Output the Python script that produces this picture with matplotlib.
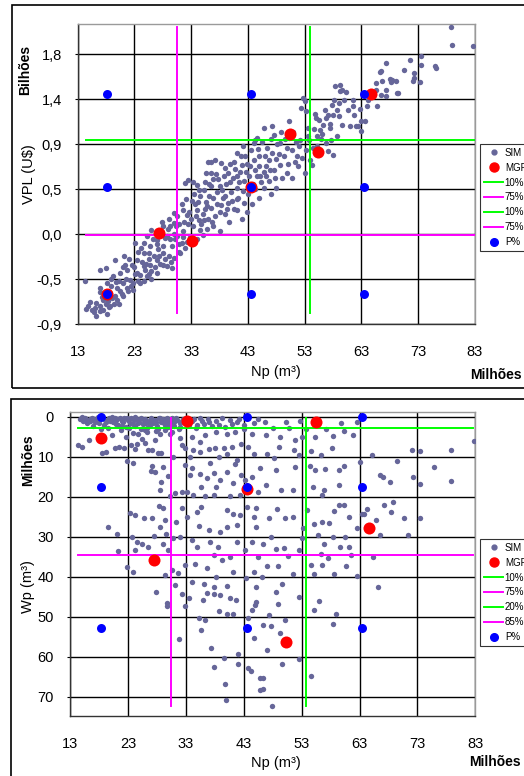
import matplotlib
matplotlib.use("Agg")
import matplotlib.pyplot as plt
from matplotlib.lines import Line2D
from matplotlib.patches import Rectangle

plt.rcParams["font.family"] = ["Liberation Sans", "DejaVu Sans"]

W, H = 524, 776
SIM_C = "#666699"
GREEN = "#00ff00"
MAGENTA = "#ff00ff"

# ---------------- dados: VPL x Np ----------------
sim_top = [
    (14.3, -0.47), (14.5, -0.75), (14.9, -0.72), (15.5, -0.76), (15.8, -0.78), (16.3, -0.69), (16.3, -0.82),
    (16.9, -0.77), (16.9, -0.72), (16.9, -0.54), (16.9, -0.36), (17.2, -0.63), (17.5, -0.76), (17.5, -0.66),
    (17.8, -0.58), (18.0, -0.34), (18.1, -0.49), (18.2, -0.80), (18.4, -0.67), (18.5, -0.73), (18.7, -0.72),
    (18.7, -0.59), (18.9, -0.52), (19.0, -0.64), (19.3, -0.42), (19.4, -0.70), (19.6, -0.62), (19.6, -0.26),
    (19.9, -0.66), (19.9, -0.54), (20.2, -0.47), (20.5, -0.39), (20.5, -0.57), (20.8, -0.60), (21.0, -0.62),
    (21.0, -0.49), (21.2, -0.22), (21.4, -0.31), (21.6, -0.36), (21.6, -0.54), (21.9, -0.57), (22.2, -0.46),
    (22.5, -0.31), (22.8, -0.56), (22.8, -0.49), (23.1, -0.09), (23.1, -0.40), (23.4, -0.39), (23.4, -0.26),
    (23.7, -0.18), (24.0, -0.49), (24.0, -0.41), (24.3, -0.28), (24.6, -0.32), (24.6, -0.19), (24.6, -0.47),
    (24.6, -0.09), (24.9, -0.36), (25.2, -0.02), (25.2, -0.42), (25.5, -0.19), (25.5, -0.25), (25.8, -0.31),
    (25.8, -0.12), (26.0, 0.04), (26.0, -0.37), (26.0, -0.45), (26.4, -0.22), (26.9, -0.26), (26.9, -0.06),
    (26.9, -0.39), (27.2, -0.15), (27.5, -0.30), (27.8, 0.12), (28.1, 0.08), (28.1, -0.19), (28.1, -0.31),
    (28.4, -0.04), (28.7, -0.02), (28.7, -0.32), (29.0, 0.15), (29.0, -0.22), (29.3, 0.08), (29.6, -0.12),
    (29.6, -0.34), (29.9, 0.11), (29.9, 0.21), (29.9, -0.24), (30.2, -0.05), (30.5, 0.18), (30.5, -0.02),
    (30.8, -0.18), (31.0, -0.19), (31.3, -0.09), (31.3, 0.30), (31.6, 0.24), (31.6, 0.03), (31.9, -0.14),
    (31.9, 0.51), (32.2, 0.19), (32.5, 0.54), (32.5, 0.10), (32.8, -0.03), (33.4, 0.52), (33.4, 0.08),
    (33.7, 0.30), (34.0, 0.49), (34.0, 0.24), (34.0, -0.05), (34.3, 0.14), (34.6, 0.04), (34.6, 0.38),
    (35.0, 0.20), (35.2, 0.44), (35.2, 0.14), (35.6, 0.61), (35.6, 0.32), (35.8, 0.28), (35.8, 0.05),
    (36.0, 0.72), (36.2, 0.50), (36.5, 0.72), (36.5, 0.61), (36.5, 0.48), (36.5, 0.26), (36.9, 0.08),
    (36.9, 0.36), (37.2, 0.74), (37.2, 0.18), (37.5, 0.42), (37.8, 0.55), (38.0, 0.48), (38.1, 0.03),
    (38.3, 0.71), (38.3, 0.29), (38.6, 0.36), (38.9, 0.66), (38.9, 0.20), (39.2, 0.50), (39.4, 0.61),
    (39.4, 0.31), (39.7, 0.12), (40.0, 0.42), (40.3, 0.56), (40.6, 0.25), (41.0, 0.81), (41.0, 0.58),
    (41.0, 0.46), (41.0, 0.24), (41.3, 0.36), (41.7, 0.78), (41.9, 0.69), (41.9, 0.15), (42.1, 0.88),
    (42.2, 0.43), (42.3, 0.53), (42.3, 0.31), (42.6, 0.62), (42.8, 0.22), (43.0, 0.40), (43.4, 0.68),
    (43.7, 0.30), (44.0, 0.74), (44.0, 0.91), (44.3, 0.94), (44.3, 0.45), (44.6, 0.96), (44.6, 0.58),
    (45.0, 0.68), (45.0, 0.78), (45.0, 0.36), (45.3, 0.52), (45.8, 1.06), (45.8, 0.46), (45.8, 0.62),
    (46.1, 0.68), (46.4, 0.86), (46.7, 0.74), (46.7, 0.53), (47.0, 0.40), (47.3, 1.08), (47.3, 0.81),
    (47.6, 0.99), (47.6, 0.64), (47.9, 0.46), (48.2, 0.90), (48.6, 0.91), (48.6, 0.69), (49.0, 0.56),
    (49.3, 0.78), (49.8, 0.86), (49.8, 0.61), (50.3, 1.13), (50.3, 0.96), (50.7, 0.84), (50.7, 0.56),
    (51.2, 0.72), (51.6, 0.78), (51.9, 0.68), (52.2, 0.94), (52.4, 1.26), (52.7, 1.36), (53.0, 1.33),
    (53.0, 0.61), (53.2, 0.84), (53.3, 1.23), (53.8, 0.94), (54.0, 0.74), (54.3, 0.69), (54.6, 1.05),
    (55.0, 1.16), (55.1, 0.98), (55.1, 0.88), (55.6, 1.14), (55.7, 1.04), (56.2, 1.09), (56.8, 1.16),
    (56.8, 0.91), (57.1, 1.19), (57.1, 0.83), (57.7, 0.94), (57.8, 1.29), (58.0, 1.19), (58.0, 0.79),
    (58.2, 1.34), (58.4, 1.48), (58.6, 1.24), (58.6, 0.98), (59.1, 1.31), (59.3, 1.49), (59.2, 1.43),
    (59.6, 1.44), (59.6, 1.09), (60.0, 1.34), (60.6, 1.24), (61.0, 1.08), (61.5, 1.28), (61.5, 1.34),
    (61.7, 1.19), (62.0, 1.08), (62.4, 1.08), (63.0, 1.03), (63.0, 1.13), (63.7, 1.13), (64.0, 1.28),
    (64.2, 1.34), (65.5, 1.44), (65.5, 1.51), (65.7, 1.28), (66.3, 1.62), (66.4, 1.39), (66.4, 1.63),
    (66.7, 1.53), (67.3, 1.38), (67.3, 1.71), (67.4, 1.44), (68.0, 1.55), (68.2, 1.52), (68.4, 1.54),
    (69.0, 1.53), (69.2, 1.41), (69.5, 1.41), (70.5, 1.64), (71.5, 1.74), (72.1, 1.53), (72.2, 1.56),
    (72.3, 1.61), (73.3, 1.52), (73.4, 1.69), (73.5, 1.78), (75.9, 1.68), (76.2, 1.66), (78.8, 2.07),
    (78.9, 1.89), (82.7, 1.88),
    (27.0, -0.10), (27.5, 0.02), (28.0, -0.12), (29.3, -0.05), (30.0, 0.00), (30.8, 0.10), (31.5, -0.03),
    (32.0, 0.35), (32.6, 0.22), (33.0, 0.15), (33.5, 0.40), (34.2, 0.32), (34.8, 0.10), (35.5, 0.52),
    (36.0, 0.15), (36.8, 0.55), (37.6, 0.30), (38.5, 0.44), (39.0, 0.38), (39.8, 0.70), (40.2, 0.33),
    (40.8, 0.65), (41.5, 0.52), (42.8, 0.70), (43.2, 0.58), (43.9, 0.50), (44.8, 0.85), (45.5, 0.92),
    (46.2, 0.58), (47.0, 0.95), (48.0, 0.75), (48.9, 1.02), (51.0, 1.02), (52.0, 0.88), (53.6, 1.06),
    (54.5, 0.86), (56.0, 1.00), (57.4, 1.06),
    (15.2, -0.68), (16.0, -0.74), (17.0, -0.58), (17.9, -0.70), (18.8, -0.45), (19.7, -0.48), (20.3, -0.70),
    (20.9, -0.33), (21.5, -0.45), (22.0, -0.25), (22.4, -0.52), (23.0, -0.33), (23.6, -0.47), (24.2, -0.14),
    (25.0, -0.30), (25.6, -0.40), (26.2, -0.05), (26.7, -0.33), (27.4, -0.22), (28.4, -0.25), (28.9, 0.05),
    (29.4, -0.28), (30.3, 0.08), (30.9, -0.10), (31.8, 0.12), (32.3, -0.08), (33.1, 0.33), (33.8, 0.18),
    (34.4, 0.44), (35.0, -0.01), (35.4, 0.25), (36.1, 0.38), (36.7, 0.12), (37.3, 0.60), (38.0, 0.22),
    (38.7, 0.58), (39.3, 0.25), (39.9, 0.52), (40.5, 0.72), (41.1, 0.35), (41.6, 0.62), (42.4, 0.78),
    (43.1, 0.48), (43.6, 0.84), (44.2, 0.64), (45.2, 0.58), (46.0, 0.78), (46.9, 0.64), (47.8, 0.56),
    (48.4, 0.80), (49.5, 0.95), (50.0, 0.70), (51.4, 0.92), (52.6, 0.76), (53.5, 0.98), (54.8, 1.20),
    (55.9, 0.95), (56.5, 1.24), (57.5, 1.10), (59.0, 1.18), (60.3, 1.42), (62.8, 1.25),
]
mgr_top_np = [18.2, 27.4, 33.1, 43.5, 50.4, 55.4, 64.7]
mgr_top_vpl = [-0.60, 0.01, -0.07, 0.47, 1.00, 0.82, 1.40]
p_top_np = [18.2, 18.2, 18.2, 43.5, 43.5, 43.5, 63.5, 63.5, 63.5]
p_top_vpl = [1.40, 0.47, -0.60, 1.40, 0.47, -0.60, 1.40, 0.47, -0.60]
top_hlines = {"green": 0.94, "magenta": -0.01}
top_vlines = {"green": 53.85, "magenta": 30.45}
top_yticks = [-0.9, -0.45, 0.0, 0.45, 0.9, 1.35, 1.8]
top_ylabels = ["-0,9", "-0,5", "0,0", "0,5", "0,9", "1,4", "1,8"]
top_legend = ["SIM", "MGR", "10%", "75%", "10%", "75%", "P%"]

# ---------------- dados: Wp x Np ----------------
sim_bot = [
    # faixa densa perto de zero
    (14.8, 0.6), (15.2, 1.1), (15.6, 0.3), (16.0, 0.8), (16.5, 1.0), (16.8, 0.2), (17.2, 0.5), (17.6, 0.9),
    (18.0, 1.5), (18.6, 0.4), (19.0, 0.7), (19.3, 1.2), (19.7, 0.2), (20.0, 0.6), (20.4, 1.4), (20.7, 0.3),
    (21.0, 0.9), (21.3, 2.0), (21.6, 0.4), (22.0, 1.1), (22.3, 0.2), (22.6, 2.6), (23.0, 0.7), (23.3, 1.5),
    (23.6, 0.3), (24.0, 0.9), (24.3, 2.2), (24.6, 0.5), (25.0, 1.2), (25.3, 0.2), (25.6, 1.9), (26.0, 0.6),
    (26.3, 2.8), (26.6, 1.0), (27.0, 0.3), (27.3, 1.6), (27.6, 0.8), (28.0, 2.3), (28.3, 0.4), (28.7, 1.2),
    (29.0, 0.6), (29.4, 2.0), (29.8, 0.9), (30.2, 1.5), (30.6, 0.3), (31.0, 2.4), (31.5, 0.8), (32.0, 1.6),
    (32.6, 0.5), (33.5, 2.0), (34.0, 1.0), (34.7, 2.7), (35.4, 0.4), (36.2, 1.8), (17.0, 2.2), (19.5, 2.7),
    (21.8, 3.4), (23.8, 4.0), (25.9, 3.3), (27.9, 3.6), (30.7, 3.9), (20.3, 4.5), (22.7, 5.0), (18.3, 3.0),
    (15.0, 0.1), (15.9, 1.6), (16.4, 0.5), (17.4, 1.3), (17.9, 0.1), (18.8, 2.0), (19.9, 1.0), (20.2, 0.1),
    (20.9, 1.7), (21.2, 0.6), (21.9, 2.4), (22.2, 1.3), (22.9, 0.3), (23.2, 2.9), (23.9, 1.8), (24.2, 0.1),
    (24.8, 1.5), (25.2, 3.0), (25.8, 0.9), (26.2, 1.5), (26.8, 2.0), (27.2, 0.7), (27.8, 1.3), (28.2, 3.1),
    (28.6, 0.2), (29.2, 1.5), (29.7, 0.4), (30.0, 2.5), (30.4, 0.9), (30.9, 1.3), (31.3, 0.2), (31.8, 3.0),
    (32.3, 1.0), (33.0, 0.3), (33.8, 1.4), (34.4, 0.6), (35.0, 2.0), (35.8, 1.1), (36.8, 0.6), (37.6, 2.4),
    (38.2, 1.0), (39.3, 0.4), (39.8, 2.6), (40.9, 1.9), (42.2, 0.6), (43.0, 2.0), (44.8, 1.5), (45.5, 0.5),
    # Np < 46
    (14.4, 7.1), (15.0, 7.5), (16.2, 5.8), (16.5, 1.0), (19.3, 8.7), (18.5, 9.0), (20.8, 7.9), (21.5, 7.5),
    (22.4, 7.9), (23.5, 7.1), (24.2, 8.1), (24.5, 6.7), (25.9, 6.5), (26.5, 8.2), (27.1, 8.2), (28.2, 9.0),
    (22.8, 11.1), (23.8, 11.5), (27.1, 12.3), (27.6, 13.7), (29.1, 12.6), (28.7, 9.0), (27.6, 5.8),
    (25.4, 5.6), (24.8, 4.2), (26.3, 3.8), (28.5, 4.2), (29.4, 3.3), (30.3, 4.2), (29.7, 2.1), (32.0, 2.5),
    (32.3, 7.1), (32.9, 7.9), (34.3, 8.2), (32.0, 5.3), (34.0, 5.0), (35.5, 6.2), (36.3, 4.6), (37.0, 1.3),
    (38.7, 2.1), (40.6, 0.8), (41.8, 1.2), (38.3, 3.8), (40.1, 4.2), (41.5, 3.8), (43.1, 3.0), (44.5, 4.2),
    (35.5, 8.7), (37.0, 8.1), (38.1, 7.9), (39.6, 7.9), (41.0, 7.5), (42.5, 6.8), (43.8, 7.5), (38.7, 10.0),
    (40.1, 9.4), (41.8, 10.9), (44.7, 9.2), (37.2, 11.5), (41.5, 11.7), (45.8, 12.9), (33.7, 10.0),
    (32.9, 12.1), (30.8, 10.0), (34.0, 12.9), (33.7, 14.6), (35.5, 14.2), (37.8, 14.0), (40.2, 13.7),
    (42.6, 14.6), (44.5, 15.0), (36.7, 15.4), (38.9, 15.8), (43.2, 15.8), (41.2, 16.5), (35.7, 17.5),
    (38.3, 17.5), (33.2, 18.7), (34.2, 19.5), (31.1, 19.0), (32.3, 18.7), (30.2, 19.9), (28.5, 18.2),
    (27.0, 13.5), (28.7, 16.3), (30.0, 14.9), (36.3, 19.9), (37.8, 19.5), (40.6, 19.8), (42.4, 19.5),
    (45.5, 18.7), (19.6, 27.5), (21.1, 29.2), (23.4, 24.0), (24.2, 24.6), (25.7, 25.4), (27.1, 25.2),
    (23.7, 30.0), (24.5, 31.2), (24.2, 33.2), (25.4, 31.8), (26.5, 32.5), (21.3, 33.6), (22.8, 37.5),
    (23.9, 38.8), (28.3, 22.3), (29.0, 22.7), (29.4, 25.8), (28.5, 27.5), (27.5, 29.8), (29.5, 29.3),
    (30.8, 30.2), (29.1, 31.7), (30.0, 33.3), (32.3, 22.9), (33.2, 25.0), (31.3, 26.3), (34.9, 23.8),
    (35.7, 22.5), (35.3, 27.3), (37.0, 28.3), (38.9, 28.7), (32.0, 30.0), (34.0, 30.7), (35.0, 32.5),
    (37.2, 31.2), (38.6, 32.5), (40.1, 23.3), (41.2, 24.2), (42.4, 24.6), (41.8, 27.1), (40.2, 27.5),
    (43.5, 22.5), (45.2, 22.9), (44.8, 25.0), (45.2, 27.5), (44.4, 31.2), (45.5, 35.0), (43.2, 33.3),
    (41.8, 31.2), (40.6, 35.0), (39.2, 35.8), (37.8, 34.6), (36.6, 37.9), (34.6, 36.7), (32.9, 37.1),
    (31.7, 39.0), (30.6, 38.3), (29.4, 39.6), (34.0, 41.2), (36.1, 41.7), (38.3, 40.0), (41.2, 38.8),
    (43.4, 40.4), (44.7, 38.8), (46.1, 40.0), (45.2, 42.5), (40.1, 42.3), (37.8, 42.5), (31.1, 42.1),
    (27.9, 43.7), (29.7, 46.5), (29.7, 47.3), (32.9, 47.2), (32.3, 44.3), (33.6, 45.2), (35.9, 45.8),
    (36.6, 44.0), (37.8, 44.3), (38.9, 44.6), (40.6, 45.4), (41.7, 45.7), (38.8, 48.5), (40.2, 49.3),
    (41.2, 49.3), (43.8, 50.2), (36.3, 50.8), (35.3, 50.2), (35.6, 53.2), (31.8, 55.6), (44.7, 55.3),
    (44.4, 48.3), (37.4, 57.9), (42.0, 59.2), (39.6, 60.4), (42.0, 61.8), (37.9, 62.5), (43.8, 62.9),
    (44.2, 63.5), (45.8, 65.4), (45.9, 68.2), (39.7, 66.7), (40.0, 70.8), (45.1, 46.2), (45.0, 47.1),
    # Np > 46
    (46.6, 1.25), (50.3, 1.25), (52.7, 1.0), (59.8, 1.6), (62.6, 1.3), (48.1, 2.75), (50.8, 2.75),
    (53.7, 3.1), (57.2, 3.1), (60.4, 3.5), (61.9, 4.6), (58.5, 4.8), (55.4, 5.0), (53.1, 5.0), (51.9, 5.8),
    (49.3, 5.0), (46.9, 4.6), (49.1, 7.5), (47.0, 9.3), (48.2, 10.4), (51.7, 8.3), (52.6, 9.6), (54.6, 8.5),
    (56.3, 9.6), (58.2, 7.9), (63.1, 11.4), (65.2, 9.6), (69.5, 11.0), (72.0, 8.2), (73.5, 8.5),
    (78.8, 8.2), (82.8, 6.0), (48.6, 13.2), (51.9, 12.5), (54.5, 12.3), (55.3, 13.4), (57.1, 13.0),
    (59.4, 13.4), (60.4, 12.3), (66.5, 14.5), (67.1, 15.1), (68.3, 16.2), (72.3, 15.1), (73.5, 16.8),
    (75.9, 12.6), (78.8, 16.1), (46.8, 17.1), (49.5, 18.3), (51.6, 18.2), (55.0, 17.5), (56.9, 18.3),
    (59.4, 17.1), (56.6, 19.6), (59.4, 22.1), (60.3, 22.1), (64.3, 23.0), (63.7, 24.2), (67.2, 22.1),
    (68.7, 21.3), (68.4, 23.8), (70.6, 25.4), (73.5, 25.2), (65.8, 25.8), (63.4, 24.3), (48.7, 23.0),
    (47.3, 25.2), (50.2, 25.2), (51.6, 25.0), (54.0, 23.3), (58.6, 23.5), (61.2, 25.0), (56.5, 26.2),
    (57.7, 26.6), (62.6, 27.8), (66.5, 29.5), (71.4, 29.5), (55.1, 26.9), (55.9, 29.5), (53.3, 27.8),
    (47.8, 30.0), (46.4, 31.7), (50.0, 32.8), (48.6, 33.0), (53.1, 30.4), (58.5, 30.0), (59.6, 32.5),
    (61.2, 32.5), (56.9, 31.7), (60.5, 30.0), (52.5, 33.2), (50.7, 34.8), (56.3, 34.3), (57.6, 35.3),
    (61.5, 34.5), (65.4, 35.1), (47.0, 37.2), (49.0, 37.4), (54.7, 37.0), (56.5, 37.0), (58.6, 39.3),
    (60.6, 37.2), (62.6, 39.7), (66.2, 42.6), (55.2, 39.3), (51.6, 39.3), (49.6, 41.8), (48.6, 43.7),
    (52.5, 45.0), (49.0, 46.7), (47.3, 49.6), (55.1, 48.3), (56.0, 46.0), (58.9, 49.2), (58.4, 51.9),
    (50.1, 50.7), (47.7, 52.3), (46.4, 52.1), (49.3, 54.0), (47.0, 58.3), (49.7, 61.7), (52.5, 60.6),
    (54.7, 64.8), (46.4, 65.4), (46.4, 68.1), (47.9, 72.2),
]
mgr_bot_np = [18.35, 33.15, 43.5, 27.56, 55.5, 64.7, 50.3]
mgr_bot_wp = [5.25, 1.0, 18.1, 35.7, 1.3, 27.8, 56.2]
p_bot_np = [18.35, 18.35, 18.35, 43.5, 43.5, 43.5, 63.4, 63.4, 63.4]
p_bot_wp = [0.0, 17.6, 52.7, 0.0, 17.6, 52.7, 0.0, 17.6, 52.7]
bot_hlines = {"green": 2.75, "magenta": 34.6}
bot_vlines = {"green": 53.8, "magenta": 30.45}
bot_yticks = [0, 10, 20, 30, 40, 50, 60, 70]
bot_legend = ["SIM", "MGR", "10%", "75%", "20%", "85%", "P%"]

x_ticks = [13, 23, 33, 43, 53, 63, 73, 83]


def frac(left, top, right, bottom):
    return [left / W, 1 - bottom / H, (right - left) / W, (bottom - top) / H]


def style_axes(ax):
    ax.set_xlim(13, 83)
    ax.set_xticks(x_ticks)
    ax.grid(True, color="black", lw=1.0)
    ax.set_axisbelow(True)
    for s in ("top", "right"):
        ax.spines[s].set_color("#9a9a9a")
    for s in ("left", "bottom"):
        ax.spines[s].set_color("#333333")
    for s in ax.spines.values():
        s.set_linewidth(1.0)
    ax.tick_params(axis="x", length=0, pad=15, labelsize=10.5)
    ax.tick_params(axis="y", length=2.5, direction="out", pad=9, labelsize=10.5)


def draw_panel(ax, sim, mgr_x, mgr_y, p_x, p_y, hlines, vlines, hx, vy):
    ax.scatter([p[0] for p in sim], [p[1] for p in sim], s=15, color=SIM_C,
               linewidths=0, zorder=3)
    for key, c in (("green", GREEN), ("magenta", MAGENTA)):
        ax.plot(hx, [hlines[key]] * 2, color=c, lw=1.4, zorder=4)
        ax.plot([vlines[key]] * 2, vy, color=c, lw=1.4, zorder=4)
    ax.scatter(mgr_x, mgr_y, s=75, color="red", linewidths=0, zorder=5)
    ax.scatter(p_x, p_y, s=42, color="blue", linewidths=0, zorder=6)


def add_legend(fig, labels, top_px):
    handles = [
        Line2D([], [], ls="none", marker="o", ms=3.5, color=SIM_C),
        Line2D([], [], ls="none", marker="o", ms=6.5, color="red"),
        Line2D([], [], color=GREEN, lw=1.4),
        Line2D([], [], color=MAGENTA, lw=1.4),
        Line2D([], [], color=GREEN, lw=1.4),
        Line2D([], [], color=MAGENTA, lw=1.4),
        Line2D([], [], ls="none", marker="o", ms=5.5, color="blue"),
    ]
    leg = fig.legend(handles, labels, loc="upper left",
                     bbox_to_anchor=(480 / W, 1 - top_px / H), fontsize=7,
                     frameon=True, fancybox=False, edgecolor="black",
                     handlelength=2.0, handletextpad=0.15, borderpad=0.4,
                     labelspacing=0.5, borderaxespad=0)
    leg.get_frame().set_linewidth(0.8)


fig = plt.figure(figsize=(W / 100, H / 100), dpi=100)

# caixas externas
fig.add_artist(Rectangle((11.7 / W, 1 - 388.3 / H), 1.0, 383.6 / H,
                         transform=fig.transFigure, fill=False, ec="black", lw=1.2))
fig.add_artist(Rectangle((11.0 / W, -0.1), 1.0, 0.1 + 1 - 399.3 / H,
                         transform=fig.transFigure, fill=False, ec="black", lw=1.2))

# painel superior
ax1 = fig.add_axes(frac(77.7, 24, 475, 324.3))
draw_panel(ax1, sim_top, mgr_top_np, mgr_top_vpl, p_top_np, p_top_vpl,
           top_hlines, top_vlines, [14.4, 83], [-0.79, 2.07])
style_axes(ax1)
ax1.set_ylim(-0.9, 2.1)
ax1.set_yticks(top_yticks)
ax1.set_yticklabels(top_ylabels)
fig.text(29 / W, 1 - 174 / H, "VPL (U$)", rotation=90, ha="center", va="center", fontsize=10.5)
fig.text(25 / W, 1 - 70 / H, "Bilhões", rotation=90, ha="center", va="center",
         fontsize=10, fontweight="bold")
fig.text(276 / W, 1 - 372 / H, "Np (m³)", ha="center", va="center", fontsize=10.5)
fig.text(470 / W, 1 - 375 / H, "Milhões", ha="left", va="center", fontsize=10, fontweight="bold")
add_legend(fig, top_legend, 144)

# painel inferior
ax2 = fig.add_axes(frac(70, 412.3, 475.3, 716))
draw_panel(ax2, sim_bot, mgr_bot_np, mgr_bot_wp, p_bot_np, p_bot_wp,
           bot_hlines, bot_vlines, [14.4, 82.6], [0.2, 72.2])
style_axes(ax2)
ax2.set_ylim(74.8, -1.1)
ax2.set_yticks(bot_yticks)
fig.text(28 / W, 1 - 587 / H, "Wp (m³)", rotation=90, ha="center", va="center", fontsize=10.5)
fig.text(28 / W, 1 - 460 / H, "Milhões", rotation=90, ha="center", va="center",
         fontsize=10, fontweight="bold")
fig.text(276 / W, 1 - 763 / H, "Np (m³)", ha="center", va="center", fontsize=10.5)
fig.text(469 / W, 1 - 762 / H, "Milhões", ha="left", va="center", fontsize=10, fontweight="bold")
add_legend(fig, bot_legend, 539)

fig.savefig("out.png", dpi=100)
